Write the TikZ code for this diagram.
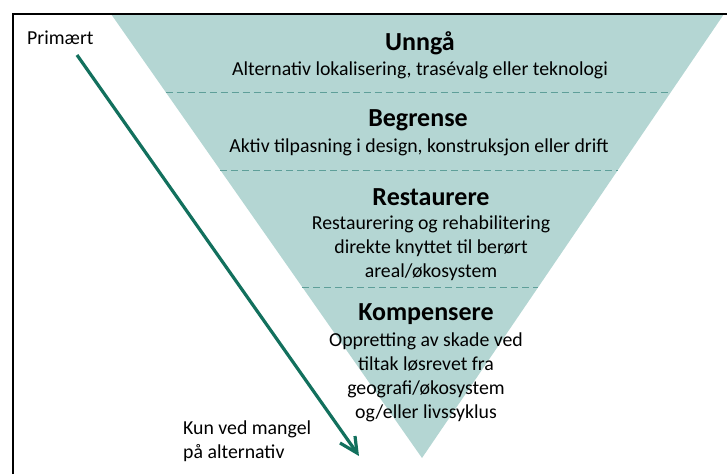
\documentclass[tikz,border=0pt]{standalone}
\usepackage{fontspec}
\setmainfont{Carlito}
\usetikzlibrary{arrows.meta}
\definecolor{funnel}{HTML}{B4D6D3}
\definecolor{dashc}{HTML}{5E9F99}
\definecolor{arrowc}{HTML}{12705D}
\tikzset{
  title/.style={font=\fontsize{26}{30}\selectfont\bfseries, anchor=center, inner sep=0pt},
  sub/.style={font=\fontsize{19.8}{24}\selectfont, anchor=center, inner sep=0pt, align=center},
  side/.style={font=\fontsize{19.8}{24}\selectfont, inner sep=0pt, align=left},
  sep/.style={dashc, dash pattern=on 7pt off 4pt, line width=1pt},
  barb/.style={arrowc, line width=3.2pt},
}
\begin{document}
\begin{tikzpicture}[x=1pt,y=-1pt]
\useasboundingbox (0,0) rectangle (727,474);
% funnel
\coordinate (tl) at (111,14);
\coordinate (tr) at (724,14);
\coordinate (bv) at (422,458);
\fill[funnel] (tl) -- (tr) -- (bv) -- cycle;
% frame
\draw[line width=1.8pt] (13,474) -- (13,14) -- (727,14);
% separators
\foreach \y/\n in {92/a,170/b,287/c}{
  \path (tl) -- (bv) coordinate[pos={(\y-14)/444}] (L\n);
  \path (tr) -- (bv) coordinate[pos={(\y-14)/444}] (R\n);
  \draw[sep] (L\n) -- (R\n);
}
% texts
\node[title] (t1) at (420,43) {Unngå};
\node[sub] (s1) at (420,70) {Alternativ lokalisering, trasévalg eller teknologi};
\node[title] (t2) at (418,120) {Begrense};
\node[sub] (s2) at (419,147) {Aktiv tilpasning i design, konstruksjon eller drift};
\node[title] (t3) at (431,197) {Restaurere};
\node[sub] (s3) at (431,248) {Restaurering og rehabilitering\\direkte knyttet til berørt\\areal/økosystem};
\node[title] (t4) at (426,314) {Kompensere};
\node[sub] (s4) at (426,377) {Oppretting av skade ved\\tiltak løsrevet fra\\geografi/økosystem\\og/eller livssyklus};
\node[side, anchor=west] (p) at (27,38) {Primært};
\node[side, anchor=north west] (k) at (183,421) {Kun ved mangel\\på alternativ};
% arrow
\coordinate (as) at (77,55);
\coordinate (ae) at (357,453);
\coordinate (ha) at (340,443);
\coordinate (hb) at (355,436);
\draw[barb] (as) -- (ae);
\draw[barb, line join=miter] (ha) -- (ae) -- (hb);
\end{tikzpicture}
\end{document}
